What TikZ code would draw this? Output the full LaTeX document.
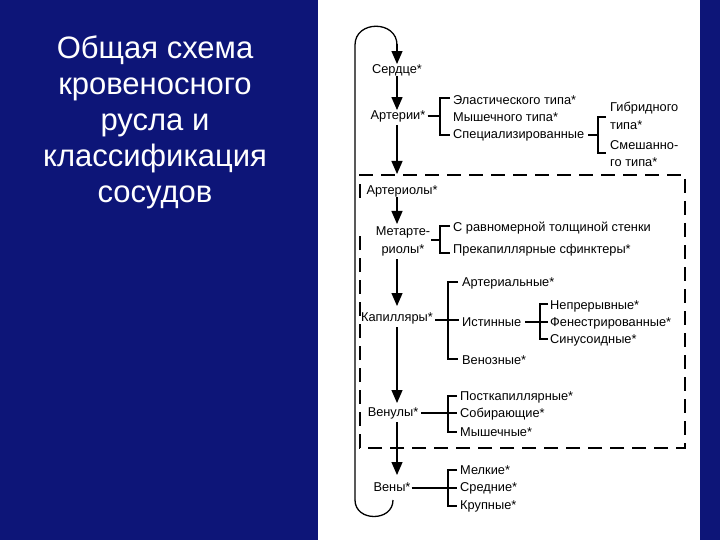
\documentclass[tikz,border=0pt]{standalone}
\usepackage{fontspec}
\setmainfont{Liberation Sans}
\usetikzlibrary{arrows.meta}
\definecolor{bg}{HTML}{0D1578}
\begin{document}
\begin{tikzpicture}[x=1pt,y=-1pt,
  lbl/.style={inner sep=0pt,font=\fontsize{12.8}{13}\selectfont},
  it/.style={lbl,anchor=west},
  ln/.style={line width=1.3pt},
  arr/.style={ln,-{Triangle[length=13pt,width=11pt]}},
  br/.style={ln}]
\useasboundingbox (0,0) rectangle (720,540);
\fill[bg] (0,0) rectangle (720,540);
\fill[white] (318,0) rectangle (700,540);
\node[white,align=center,font=\fontsize{31}{36}\selectfont] (title) at (155,122) {Общая схема\\кровеносного\\русла и\\классификация\\сосудов};
% main nodes
\node[lbl] (heart) at (397,70) {Сердце*};
\node[lbl] (art) at (398,116) {Артерии*};
\node[lbl] (arl) at (402,191) {Артериолы*};
\node[lbl,align=center,font=\fontsize{12.8}{18}\selectfont] (met) at (403,241) {Метарте-\\риолы*};
\node[lbl] (cap) at (397,318) {Капилляры*};
\node[lbl] (ven) at (393,413) {Венулы*};
\node[lbl] (vein) at (392,487) {Вены*};
% loop
\coordinate (lt) at (355,45); \coordinate (lb) at (355,500);
\draw[ln] (lb) -- (lt) .. controls (355,20) and (397,20) .. (397,45);
\draw[arr] (397,44) -- (heart.north);
\draw[ln] (lb) .. controls (355,522) and (393,522) .. (393,500);
% vertical arrows
\draw[arr] (heart.south) -- (art.north -| heart.south);
\draw[arr] (397,125) -- (397,174);
\draw[arr] (arl.south -| 397,0) -- (397,224);
\draw[arr] (397,259) -- (397,306);
\draw[arr] (397,327) -- (397,403);
\draw[arr] (397,422) -- (397,475);
% dashed box
\draw[ln,dash pattern=on 14pt off 8pt] (360,198) -- (360,175) -- (685,175) -- (685,448) -- (360,448) -- (360,232);
% arteries
\node[it] (a1) at (453,100) {Эластического типа*};
\node[it] (a2) at (453,117) {Мышечного типа*};
\node[it] (a3) at (453,135) {Специализированные};
\draw[ln] (art.east |- 0,116) ++(2,0) -- (440,116);
\draw[br] (450,98) -| (440,135) -- (450,135);
\node[it] (s1) at (610,108) {Гибридного};
\node[it] (s2) at (610,125) {типа*};
\node[it] (s3) at (610,145) {Смешанно-};
\node[it] (s4) at (610,162) {го типа*};
\draw[ln] (a3.east) ++(4,0) -- (598,135);
\draw[br] (606,117) -| (598,153) -- (606,153);
% metarterioles
\node[it] (m1) at (453,228) {С равномерной толщиной стенки};
\node[it] (m2) at (453,250) {Прекапиллярные сфинктеры*};
\draw[ln] (431,240) -- (440,240);
\draw[br] (450,226) -| (440,253) -- (450,253);
% capillaries
\node[it] (c1) at (462,283) {Артериальные*};
\node[it] (c2) at (462,322) {Истинные};
\node[it] (c3) at (462,360) {Венозные*};
\draw[ln] (cap.east |- 0,320) ++(2,0) -- (459,320);
\draw[br] (458,282) -| (448,359) -- (458,359);
\node[it] (t1) at (550,306) {Непрерывные*};
\node[it] (t2) at (550,323) {Фенестрированные*};
\node[it] (t3) at (550,340) {Синусоидные*};
\draw[ln] (c2.east |- 0,322) ++(4,0) -- (548,322);
\draw[br] (548,304) -| (540,339) -- (548,339);
% venules
\node[it] (v1) at (460,397) {Посткапиллярные*};
\node[it] (v2) at (460,414) {Собирающие*};
\node[it] (v3) at (460,432) {Мышечные*};
\draw[ln] (ven.east |- 0,413) ++(3,0) -- (457,413);
\draw[br] (457,396) -| (448,432) -- (457,432);
% veins
\node[it] (w1) at (460,470) {Мелкие*};
\node[it] (w2) at (460,488) {Средние*};
\node[it] (w3) at (460,506) {Крупные*};
\draw[ln] (vein.east |- 0,488) ++(1,0) -- (457,488);
\draw[br] (457,470) -| (448,506) -- (457,506);
\end{tikzpicture}
\end{document}
